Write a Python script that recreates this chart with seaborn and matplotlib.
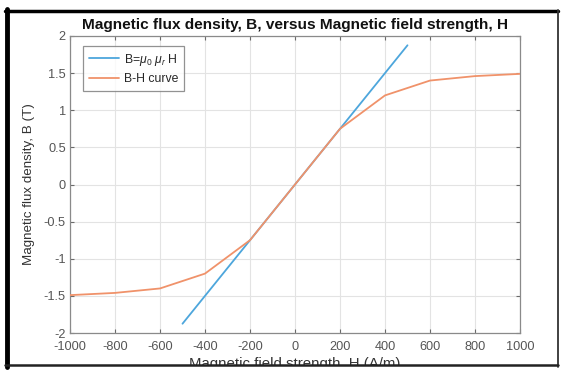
import numpy as np
import pandas as pd
import matplotlib
matplotlib.use("Agg")
import matplotlib.pyplot as plt
import seaborn as sns
from matplotlib.lines import Line2D
from matplotlib.patches import Rectangle

# Data
H_lin = [-500, 500]
B_lin = [-1.875, 1.875]
H_curve = [-1000, -800, -600, -400, -200, 0, 200, 400, 600, 800, 1000]
B_curve = [-1.49, -1.46, -1.40, -1.20, -0.75, 0.0, 0.75, 1.20, 1.40, 1.46, 1.49]
x_ticks = [-1000, -800, -600, -400, -200, 0, 200, 400, 600, 800, 1000]
y_ticks = [-2, -1.5, -1, -0.5, 0, 0.5, 1, 1.5, 2]

sns.set_style("white")
plt.rcParams['font.family'] = ['Liberation Sans', 'DejaVu Sans']
plt.rcParams['mathtext.fontset'] = 'custom'
plt.rcParams['mathtext.it'] = 'Liberation Sans:italic'
plt.rcParams['mathtext.rm'] = 'Liberation Sans'

fig = plt.figure(figsize=(5.61, 3.70), dpi=100)
ax = fig.add_axes([70/561, 1-333/370, 450/561, 297/370])

df_lin = pd.DataFrame({"H": H_lin, "B": B_lin})
df_curve = pd.DataFrame({"H": H_curve, "B": B_curve})
sns.lineplot(data=df_lin, x="H", y="B", ax=ax, color="#4da6dc", lw=1.3,
             label=r"B=$\mu_0$ $\mu_r$ H", zorder=3)
sns.lineplot(data=df_curve, x="H", y="B", ax=ax, color="#f0926a", lw=1.3,
             label="B-H curve", zorder=4)

ax.set_xlim(-1000, 1000)
ax.set_ylim(-2, 2)
ax.set_xticks(x_ticks)
ax.set_xticklabels([str(v) for v in x_ticks])
ax.set_yticks(y_ticks)
ax.set_yticklabels([("%g" % v) for v in y_ticks])
ax.grid(True, color="#e3e3e3", lw=0.8)
ax.set_axisbelow(True)
for s in ax.spines.values():
    s.set_visible(True)
    s.set_color("#8a8a8a")
    s.set_linewidth(0.9)
ax.tick_params(axis='both', direction='in', length=3, width=0.8, color="#6a6a6a",
               labelsize=9.2, labelcolor="#555555", pad=3, top=True, right=True,
               bottom=True, left=True)
ax.tick_params(axis='x', pad=6)

ax.set_title("Magnetic flux density, B, versus Magnetic field strength, H",
             fontsize=11.1, fontweight='bold', color="#111111", pad=5)
ax.set_xlabel("Magnetic field strength, H (A/m)", fontsize=10.8, color="#333333", labelpad=2.5)
ax.set_ylabel("Magnetic flux density, B (T)", fontsize=9.6, color="#333333", labelpad=6)

leg = ax.legend(loc="upper left", fontsize=8.8, frameon=True, fancybox=False,
                edgecolor="#777777", handlelength=2.5, handletextpad=0.4,
                borderpad=0.45, labelspacing=0.45, borderaxespad=0,
                bbox_to_anchor=(0.029, 0.966))
leg.get_frame().set_linewidth(0.9)

# Outer screenshot frame
fig.add_artist(Rectangle((0, 0), 1, 5/370, transform=fig.transFigure,
                         facecolor="white", edgecolor="none", zorder=10))
fig.add_artist(Line2D([6.5/561, 6.5/561], [3/370, 1-9/370], transform=fig.transFigure,
                      color="black", lw=3.5, zorder=11))
fig.add_artist(Line2D([5/561, 558/561], [1-10.5/370, 1-10.5/370], transform=fig.transFigure,
                      color="black", lw=2.5, zorder=11))
fig.add_artist(Line2D([558/561, 558/561], [3/370, 1-10/370], transform=fig.transFigure,
                      color="#333333", lw=1.3, zorder=11))
fig.add_artist(Line2D([5/561, 558/561], [5/370, 5/370], transform=fig.transFigure,
                      color="#222222", lw=1.8, zorder=11))

fig.savefig("out.png", dpi=100)
